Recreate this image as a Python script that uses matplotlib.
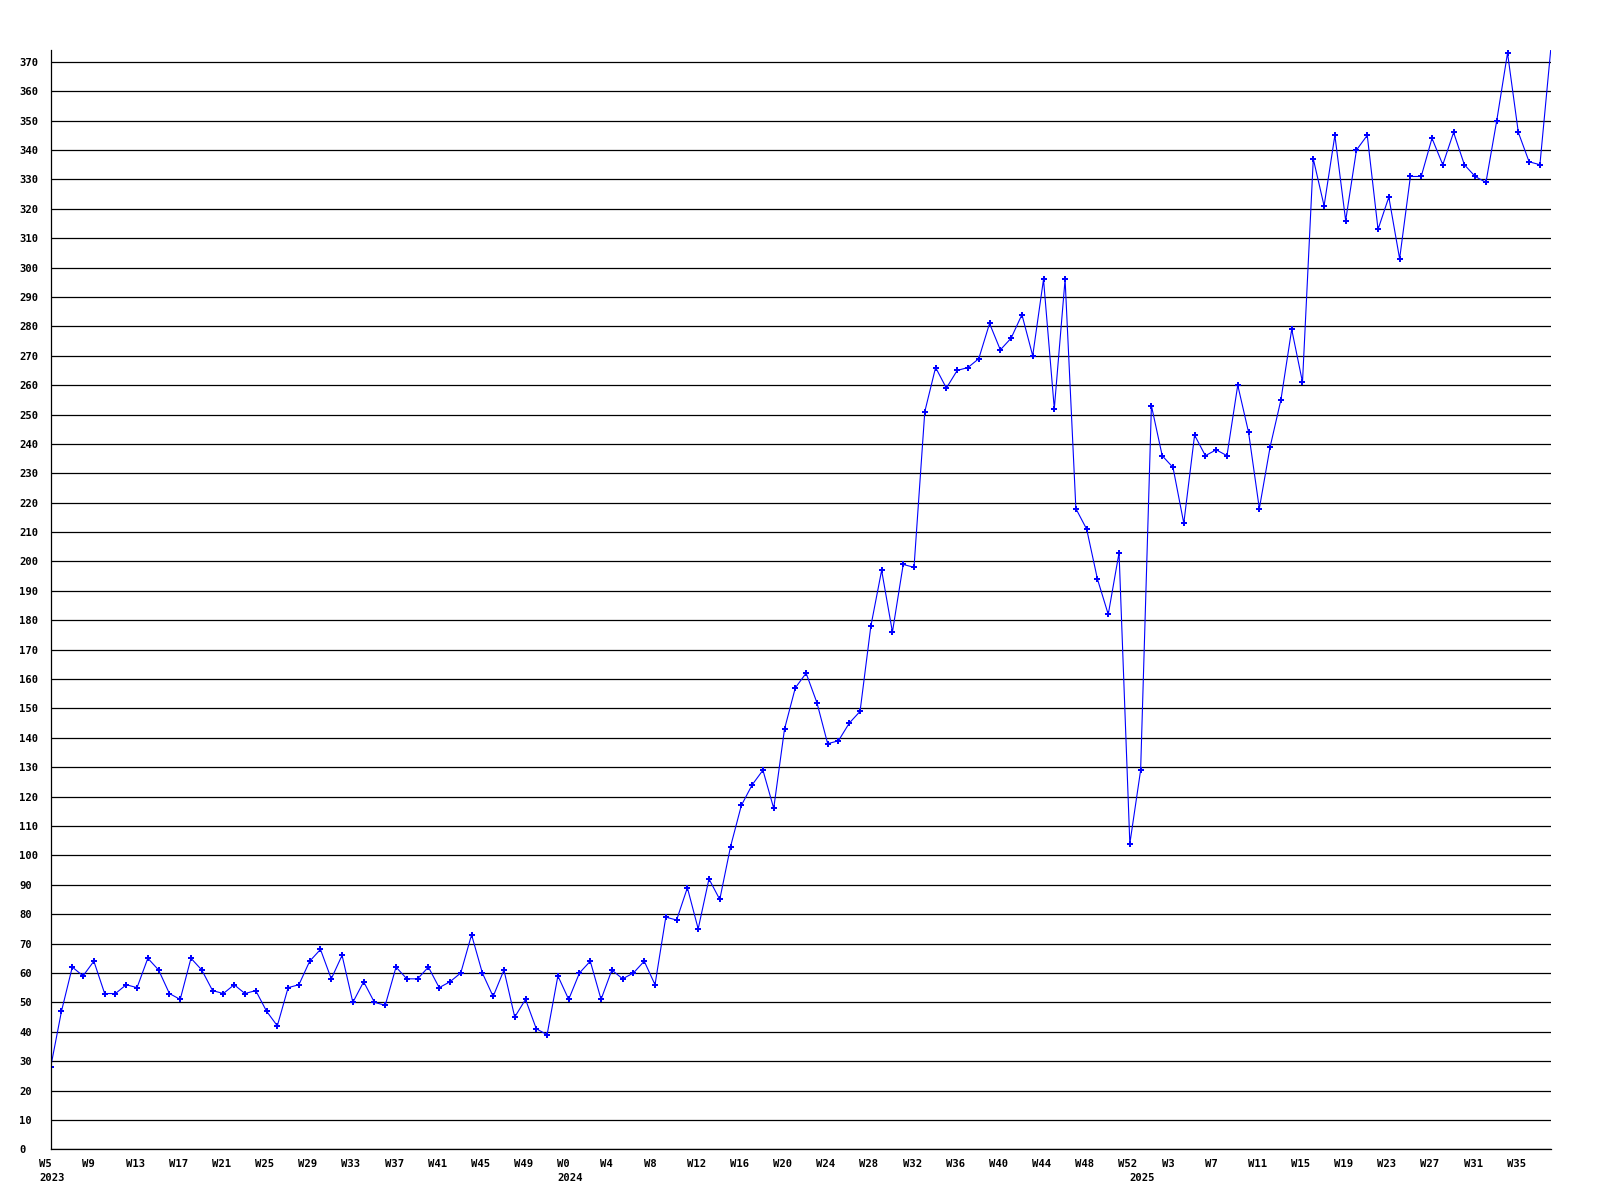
import numpy as np
import matplotlib
matplotlib.use('Agg')
import matplotlib.pyplot as plt
import matplotlib.transforms as mtransforms

# weekly counts
weeks_2023 = list(range(5, 53))
values_2023 = [28, 47, 62, 59, 64, 53, 53, 56, 55, 65, 61, 53, 51, 65, 61, 54,
               53, 56, 53, 54, 47, 42, 55, 56, 64, 68, 58, 66, 50, 57, 50, 49,
               62, 58, 58, 62, 55, 57, 60, 73, 60, 52, 61, 45, 51, 41, 39, 59]
weeks_2024 = list(range(0, 53))
values_2024 = [51, 60, 64, 51, 61, 58, 60, 64, 56, 79, 78, 89, 75, 92, 85, 103,
               117, 124, 129, 116, 143, 157, 162, 152, 138, 139, 145, 149, 178, 197, 176, 199,
               198, 251, 266, 259, 265, 266, 269, 281, 272, 276, 284, 270, 296, 252, 296, 218,
               211, 194, 182, 203, 104]
weeks_2025 = list(range(0, 39))
values_2025 = [129, 253, 236, 232, 213, 243, 236, 238, 236, 260, 244, 218, 239, 255, 279, 261,
               337, 321, 345, 316, 340, 345, 313, 324, 303, 331, 331, 344, 335, 346, 335, 331,
               329, 350, 373, 346, 336, 335, 374]

years = [2023] * len(weeks_2023) + [2024] * len(weeks_2024) + [2025] * len(weeks_2025)
weeks = weeks_2023 + weeks_2024 + weeks_2025
values = values_2023 + values_2024 + values_2025
x = np.arange(len(values))

font = dict(family='DejaVu Sans Mono', weight='bold', size=7.6)

W, H = 1600, 1200
fig = plt.figure(figsize=(16, 12), dpi=100)
left, right, bottom, top = 50.7, 1550.7, 1149.3, 50.1
ax = fig.add_axes([left / W, 1 - bottom / H, (right - left) / W, (bottom - top) / H])

# last point sits on the plot corner; the reference shows no marker there
ax.plot(x, values, color='#0000ff', lw=0.8, marker='P', ms=4.6, mew=0,
        markevery=list(range(len(values) - 1)))

ax.set_xlim(0, len(values) - 1)
ax.set_ylim(0, max(values))

ax.set_yticks(range(0, 371, 10))
ax.yaxis.grid(True, color='black', lw=0.9)
ax.set_axisbelow(True)
ax.tick_params(axis='y', length=0, pad=22.5)
for lab in ax.get_yticklabels():
    lab.set_horizontalalignment('left')
    lab.set_fontproperties(matplotlib.font_manager.FontProperties(**font))

ticks = x[::4]
ax.set_xticks(ticks)
ax.set_xticklabels(['W%d' % weeks[i] for i in ticks])
ax.tick_params(axis='x', length=0, pad=7)
shift = mtransforms.ScaledTranslation(-11.5 / 100, 0, fig.dpi_scale_trans)
for lab in ax.get_xticklabels():
    lab.set_horizontalalignment('left')
    lab.set_fontproperties(matplotlib.font_manager.FontProperties(**font))
    lab.set_transform(lab.get_transform() + shift)

# year labels under the first week of each year
blend = mtransforms.blended_transform_factory(ax.transData, ax.transAxes)
yshift = mtransforms.ScaledTranslation(-11.5 / 100, -24 / 100, fig.dpi_scale_trans)
for i, yr in enumerate(years):
    if i == 0 or years[i - 1] != yr:
        ax.text(i, 0, str(yr), transform=blend + yshift, ha='left', va='top', **font)

for s in ['top', 'right']:
    ax.spines[s].set_visible(False)
for s in ['left', 'bottom']:
    ax.spines[s].set_color('black')
    ax.spines[s].set_linewidth(0.9)

fig.savefig('out.png', dpi=100, facecolor='white')
